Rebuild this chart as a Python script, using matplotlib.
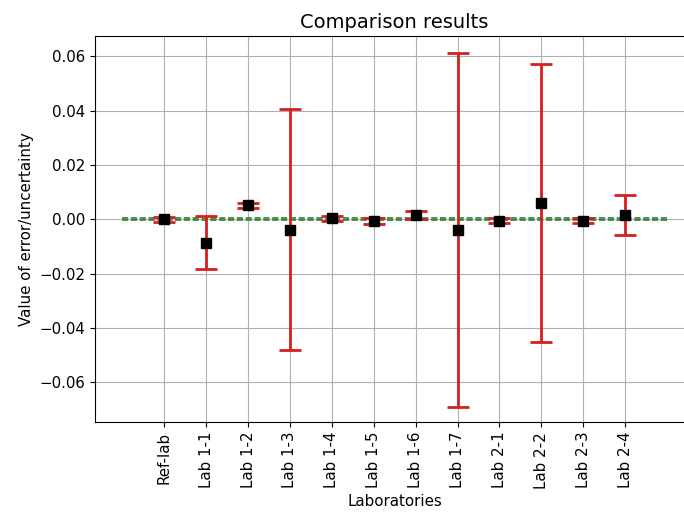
import matplotlib
matplotlib.use("Agg")
import matplotlib.pyplot as plt

labs = ["Ref-lab", "Lab 1-1", "Lab 1-2", "Lab 1-3", "Lab 1-4", "Lab 1-5",
        "Lab 1-6", "Lab 1-7", "Lab 2-1", "Lab 2-2", "Lab 2-3", "Lab 2-4"]
errors = [0.0000, -0.0086, 0.0052, -0.0038, 0.0003, -0.0007,
          0.0015, -0.0040, -0.0006, 0.0060, -0.0006, 0.0015]
uncert = [0.0009, 0.0097, 0.0009, 0.0442, 0.0010, 0.0011,
          0.0014, 0.0652, 0.0009, 0.0512, 0.0009, 0.0074]
ref_band = [0.0004, -0.0004]

x = list(range(1, len(labs) + 1))

fig = plt.figure(figsize=(6.84, 5.16), dpi=100)
ax = fig.add_axes([0.139, 0.182, 0.876, 0.748])

for yb in ref_band:
    ax.plot([0, len(labs) + 1], [yb, yb], "--", color="#2e7d32", lw=1.2, zorder=2)
ax.errorbar(x, errors, yerr=uncert, fmt="s", color="black", markersize=7,
            ecolor="#d62020", elinewidth=2, capsize=8, capthick=2, zorder=3)

ax.set_xlim(-0.65, 13.65)
ax.set_ylim(-0.0747, 0.0674)
ax.set_xticks(x)
ax.set_xticklabels(labs, rotation=90, fontsize=10.8)
ax.set_yticks([-0.06, -0.04, -0.02, 0.0, 0.02, 0.04, 0.06])
ax.tick_params(axis="y", labelsize=10.8)
ax.grid(True, color="#b0b0b0", lw=0.8)
ax.set_axisbelow(True)
ax.set_xlabel("Laboratories", fontsize=10.8)
ax.set_ylabel("Value of error/uncertainty", fontsize=10.8)
ax.set_title("Comparison results", fontsize=14)

fig.savefig("out.png", dpi=100)
